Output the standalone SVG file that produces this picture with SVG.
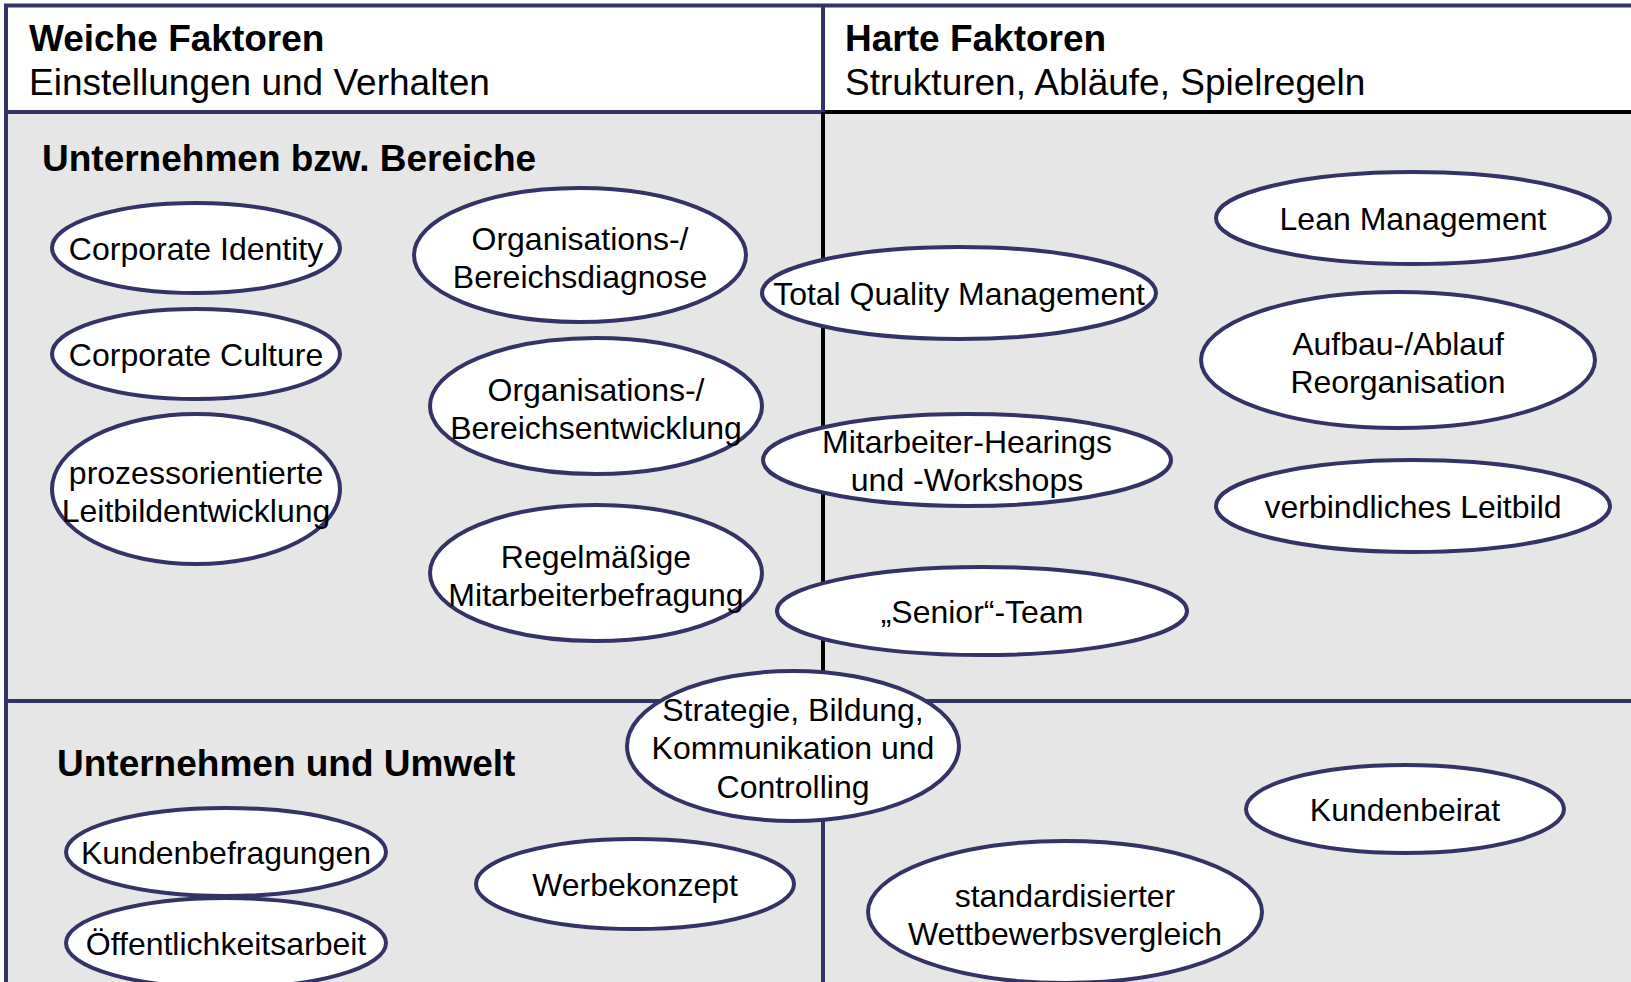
<svg xmlns="http://www.w3.org/2000/svg" width="1631" height="982" viewBox="0 0 1631 982">
<style>
.bg{fill:#ffffff}
.body{fill:#e6e6e6}
.hdr{fill:#ffffff}
.bl{stroke:#333366;stroke-width:4;fill:none}
.bk{stroke:#000000;stroke-width:4;fill:none}
.node ellipse{fill:#ffffff;stroke:#333366;stroke-width:4}
.node text{font-family:"Liberation Sans",Arial,sans-serif;font-size:32px;fill:#000000;text-anchor:middle}
.h1{font-family:"Liberation Sans",Arial,sans-serif;font-size:37px;font-weight:bold;fill:#000000}
.h2{font-family:"Liberation Sans",Arial,sans-serif;font-size:37px;fill:#000000}
</style>
<rect class="bg" x="0" y="0" width="1631" height="982"/>
<g id="frame">
<rect class="hdr" x="6" y="6" width="1625" height="106"/>
<rect class="body" x="6" y="112" width="1625" height="870"/>
<line class="bl" x1="4" y1="5.5" x2="1631" y2="5.5"/>
<line class="bl" x1="6" y1="4" x2="6" y2="982"/>
<line class="bl" x1="6" y1="112" x2="823" y2="112"/>
<line class="bk" x1="823" y1="112" x2="1631" y2="112"/>
<line class="bl" x1="823" y1="4" x2="823" y2="112"/>
<line class="bk" x1="823" y1="112" x2="823" y2="701"/>
<line class="bl" x1="823" y1="701" x2="823" y2="982"/>
<line class="bl" x1="6" y1="701" x2="1631" y2="701"/>
</g>
<g id="headers">
<text class="h1" x="29" y="51">Weiche Faktoren</text>
<text class="h2" x="29" y="95">Einstellungen und Verhalten</text>
<text class="h1" x="845" y="51">Harte Faktoren</text>
<text class="h2" x="845" y="95">Strukturen, Abläufe, Spielregeln</text>
<text class="h1" x="42" y="171">Unternehmen bzw. Bereiche</text>
<text class="h1" x="57" y="776">Unternehmen und Umwelt</text>
</g>
<g id="connectors"></g>
<g id="n-corporate-identity" class="node"><ellipse cx="196" cy="248" rx="144" ry="45"/><text x="196" y="260">Corporate Identity</text></g>
<g id="n-corporate-culture" class="node"><ellipse cx="196" cy="354" rx="144" ry="45"/><text x="196" y="366">Corporate Culture</text></g>
<g id="n-leitbildentwicklung" class="node"><ellipse cx="196" cy="489" rx="144" ry="75"/><text x="196" y="484">prozessorientierte</text><text x="196" y="522">Leitbildentwicklung</text></g>
<g id="n-bereichsdiagnose" class="node"><ellipse cx="580" cy="255" rx="166" ry="67"/><text x="580" y="250">Organisations-/</text><text x="580" y="288">Bereichsdiagnose</text></g>
<g id="n-bereichsentwicklung" class="node"><ellipse cx="596" cy="406" rx="166" ry="68"/><text x="596" y="401">Organisations-/</text><text x="596" y="439">Bereichsentwicklung</text></g>
<g id="n-mitarbeiterbefragung" class="node"><ellipse cx="596" cy="573" rx="166" ry="68"/><text x="596" y="568">Regelmäßige</text><text x="596" y="606">Mitarbeiterbefragung</text></g>
<g id="n-tqm" class="node"><ellipse cx="959" cy="293" rx="197" ry="46"/><text x="959" y="305">Total Quality Management</text></g>
<g id="n-hearings" class="node"><ellipse cx="967" cy="460" rx="204" ry="46"/><text x="967" y="453">Mitarbeiter-Hearings</text><text x="967" y="491">und -Workshops</text></g>
<g id="n-senior" class="node"><ellipse cx="982" cy="611" rx="205" ry="44"/><text x="982" y="623">„Senior“-Team</text></g>
<g id="n-lean" class="node"><ellipse cx="1413" cy="218" rx="197" ry="46"/><text x="1413" y="230">Lean Management</text></g>
<g id="n-reorganisation" class="node"><ellipse cx="1398" cy="360" rx="197" ry="68"/><text x="1398" y="355">Aufbau-/Ablauf</text><text x="1398" y="393">Reorganisation</text></g>
<g id="n-leitbild" class="node"><ellipse cx="1413" cy="506" rx="197" ry="46"/><text x="1413" y="518">verbindliches Leitbild</text></g>
<g id="n-strategie" class="node"><ellipse cx="793" cy="746" rx="166" ry="75"/><text x="793" y="721">Strategie, Bildung,</text><text x="793" y="759">Kommunikation und</text><text x="793" y="798">Controlling</text></g>
<g id="n-kundenbefragungen" class="node"><ellipse cx="226" cy="852" rx="160" ry="44"/><text x="226" y="864">Kundenbefragungen</text></g>
<g id="n-oeffentlichkeitsarbeit" class="node"><ellipse cx="226" cy="943" rx="160" ry="45"/><text x="226" y="955">Öffentlichkeitsarbeit</text></g>
<g id="n-werbekonzept" class="node"><ellipse cx="635" cy="884" rx="159" ry="45"/><text x="635" y="896">Werbekonzept</text></g>
<g id="n-kundenbeirat" class="node"><ellipse cx="1405" cy="809" rx="159" ry="44"/><text x="1405" y="821">Kundenbeirat</text></g>
<g id="n-wettbewerbsvergleich" class="node"><ellipse cx="1065" cy="912" rx="197" ry="71"/><text x="1065" y="907">standardisierter</text><text x="1065" y="945">Wettbewerbsvergleich</text></g>
</svg>
